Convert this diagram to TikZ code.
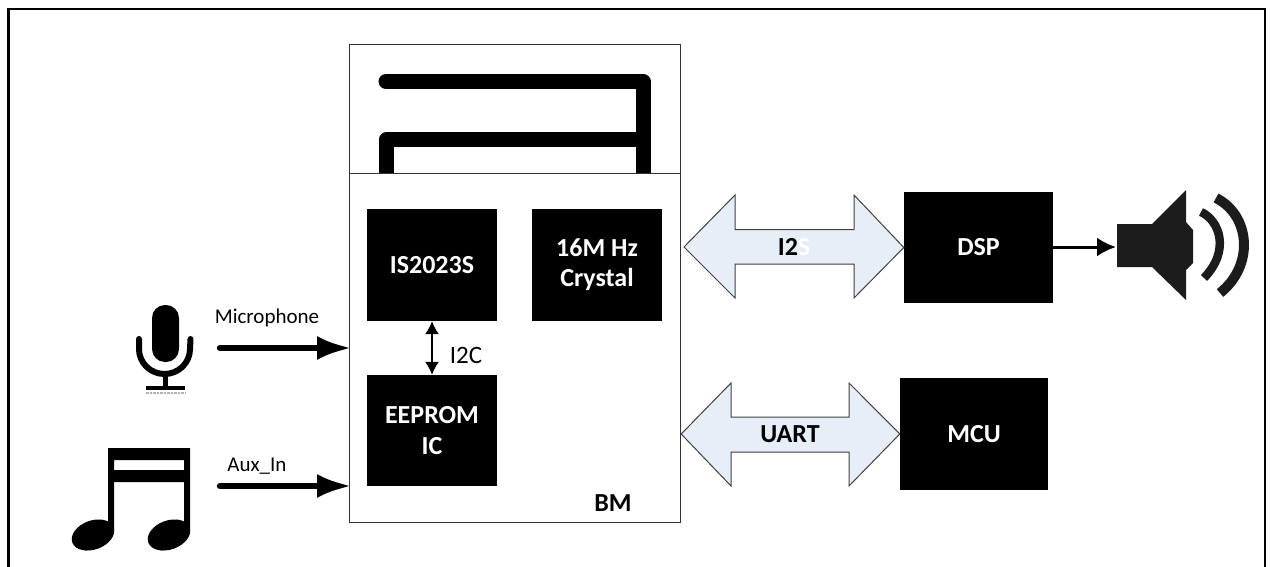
\documentclass[tikz,border=0pt]{standalone}
\usepackage{fontspec}
\usepackage{xcolor}
\setmainfont{Carlito}
\usetikzlibrary{calc,arrows.meta}
\definecolor{busfill}{HTML}{E8EEF7}
\definecolor{busline}{HTML}{404040}
\definecolor{boxline}{HTML}{333333}
\definecolor{speckle}{HTML}{1C1C1C}
\tikzset{
  frameline/.style={draw=black, line width=2.6pt},
  outerbox/.style={draw=boxline, line width=1.2pt, inner sep=0pt},
  trace/.style={draw=black, line width=15pt, line cap=round, line join=round},
  chip/.style={fill=black, text=white, inner sep=0pt, align=center,
    font=\fontsize{26}{31}\selectfont\bfseries},
  bus/.style={draw=busline, fill=busfill, line width=1pt, line join=miter},
  buslab/.style={inner sep=0pt, font=\fontsize{26}{30}\selectfont\bfseries},
  lab/.style={inner sep=0pt, font=\fontsize{21}{25}\selectfont},
  sigline/.style={draw=black, line width=6.5pt, line cap=round, shorten >=-3pt, -{Latex[length=35pt,width=24pt]}},
  thinline/.style={draw=black, line width=1.4pt, {Latex[length=13pt,width=14pt]}-{Latex[length=13pt,width=14pt]}},
  spkline/.style={draw=black, line width=3pt, -{Latex[length=19pt,width=19pt]}},
  icon/.style={fill=black, draw=none},
  wave/.style={draw=speckle, line cap=butt},
}

\begin{document}
\begin{tikzpicture}[x=1pt,y=-1pt]
  \useasboundingbox (0,0) rectangle (1272,567);
  % outer frame, open at the bottom
  \draw[frameline] (8.5,567) -- (8.5,9) -- (1265,9) -- (1265,567);

  % antenna
  \node[outerbox,anchor=north west,minimum width=331pt,minimum height=129pt] (ant) at (349,44) {};
  \draw[trace] (386,81.5) -- (643,81.5) -- (643,173);
  \draw[trace,line cap=butt] (386,173) -- (386,140) -- (643,140);

  % module with its parts
  \node[outerbox,fill=white,anchor=north west,minimum width=331pt,minimum height=349pt] (module) at (349,173) {};
  \node[chip,minimum width=130pt,minimum height=112pt] (soc) at (432,265) {IS2023S};
  \node[chip,minimum width=130pt,minimum height=112pt] (xtal) at (597,265) {16M Hz\\[-1pt]Crystal};
  \node[chip,minimum width=130pt,minimum height=111pt] (eeprom) at (432,430.5) {EEPROM\\[0pt]IC};
  \node[buslab] (bm) at (613,503) {BM};
  \draw[thinline] (soc) -- (eeprom);
  \node[lab,font=\fontsize{25}{29}\selectfont] (i2c) at (466,355) {I2C};

  % outside blocks
  \node[chip,minimum width=149pt,minimum height=111pt] (dsp) at (978.5,247.5) {DSP};
  \node[chip,minimum width=148pt,minimum height=112pt] (mcu) at (974,434) {MCU};

  % wide buses
  \coordinate (i2sl) at (684,247);
  \draw[bus] (i2sl) -- (735,195) -- (735,229.5) -- (854,229.5) -- (854,195) -- (dsp.west)
    -- (854,298) -- (854,264) -- (735,264) -- (735,298) -- cycle;
  \node[buslab] (i2s) at (794,247) {I2\textcolor{white}{S}};
  \coordinate (uartl) at (module.east |- mcu.west);
  \draw[bus] (uartl) -- (731,383) -- (731,417) -- (849,417) -- (849,383) -- (mcu.west)
    -- (849,486) -- (849,452) -- (731,452) -- (731,486) -- cycle;
  \node[buslab] (uart) at (790,434) {UART};

  % speaker
  \fill[speckle] (1117,224) -- (1152,224) -- (1186,190) -- (1186,222) -- (1193,230)
    -- (1193,263) -- (1186,270) -- (1186,300) -- (1152,267) -- (1117,267) -- cycle;
  \coordinate (spk) at (1116,247);
  \draw[spkline] (dsp.east |- spk) -- (spk);
  \draw[wave,line width=8.5pt] (1201,212) .. controls (1219,220) and (1231,250) .. (1204,278);
  \draw[wave,line width=10pt] (1216,198) .. controls (1250,215) and (1255,265) .. (1220,293);

  % microphone
  \fill[icon,rounded corners=13pt] (152,305) rectangle (179,362);
  \draw[black,line width=6pt,line cap=round] (139,339) -- (139,349)
    arc[start angle=180,end angle=0,x radius=25.5pt,y radius=-25pt] -- (190.5,339);
  \draw[black,line width=5pt] (165,374) -- (165,387);
  \draw[black,line width=3.5pt] (146,388) -- (185,388);
  \draw[gray!60,line width=2.5pt,densely dotted] (146,393) -- (185,393);
  \coordinate (micsrc) at (220,348);
  \draw[sigline] (micsrc) -- (micsrc -| module.west);
  \node[lab] (mic) at (267,318) {Microphone};

  % music notes
  \fill[icon,even odd rule] (108,448) rectangle (190,482) (114,460) rectangle (184,470);
  \fill[icon] (108,482) rectangle (114,530) (184,482) rectangle (190,530);
  \fill[icon,rotate around={20:(93,535)}] (93,535) ellipse[x radius=22pt,y radius=14.5pt];
  \fill[icon,rotate around={20:(169,535)}] (169,535) ellipse[x radius=22pt,y radius=14.5pt];
  \coordinate (auxsrc) at (220,486);
  \draw[sigline] (auxsrc) -- (auxsrc -| module.west);
  \node[lab] (aux) at (257,466) {Aux\_In};
\end{tikzpicture}
\end{document}
